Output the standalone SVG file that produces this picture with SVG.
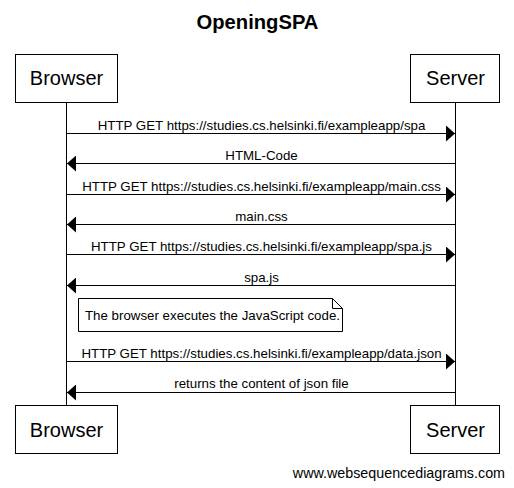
<svg xmlns="http://www.w3.org/2000/svg" width="514" height="488" viewBox="0 0 514 488">
<style>
text{font-family:"Liberation Sans",Arial,sans-serif;fill:#000}
.lbl{font-size:13.3px;text-anchor:middle}
.part{font-size:20px;text-anchor:middle}
.box{fill:#fff;stroke:#000;stroke-width:1}
.msg{stroke:#000;stroke-width:1;fill:none}
.life{stroke:#000;stroke-width:1}
</style>
<defs>
<marker id="ah" viewBox="0 0 9 16" refX="9" refY="8" markerWidth="9" markerHeight="16" markerUnits="userSpaceOnUse" orient="auto">
<path d="M0,0 L9,8 L0,16 Z" fill="#000"/>
</marker>
</defs>
<rect width="514" height="488" fill="#fff"/>
<text x="257.5" y="29" font-size="20.2" font-weight="bold" text-anchor="middle">OpeningSPA</text>
<g id="lifelines">
<line class="life" x1="66.5" y1="103" x2="66.5" y2="405"/>
<line class="life" x1="455.5" y1="103" x2="455.5" y2="405"/>
</g>
<g id="browser-top"><rect class="box" x="15.5" y="54.5" width="102" height="48"/><text class="part" x="66.5" y="85">Browser</text></g>
<g id="server-top"><rect class="box" x="410.5" y="54.5" width="89" height="48"/><text class="part" x="455.5" y="85">Server</text></g>
<g id="browser-bottom"><rect class="box" x="15.5" y="405.5" width="102" height="48"/><text class="part" x="66.5" y="437">Browser</text></g>
<g id="server-bottom"><rect class="box" x="410.5" y="405.5" width="89" height="48"/><text class="part" x="455.5" y="437">Server</text></g>
<g id="connectors">
<line class="msg" x1="67" y1="133.5" x2="455" y2="133.5" marker-end="url(#ah)"/>
<line class="msg" x1="455" y1="163.5" x2="67" y2="163.5" marker-end="url(#ah)"/>
<line class="msg" x1="67" y1="194.5" x2="455" y2="194.5" marker-end="url(#ah)"/>
<line class="msg" x1="455" y1="224.5" x2="67" y2="224.5" marker-end="url(#ah)"/>
<line class="msg" x1="67" y1="254.5" x2="455" y2="254.5" marker-end="url(#ah)"/>
<line class="msg" x1="455" y1="285.5" x2="67" y2="285.5" marker-end="url(#ah)"/>
<line class="msg" x1="67" y1="361.5" x2="455" y2="361.5" marker-end="url(#ah)"/>
<line class="msg" x1="455" y1="392.5" x2="67" y2="392.5" marker-end="url(#ah)"/>
<text class="lbl" x="261.5" y="130">HTTP GET https://studies.cs.helsinki.fi/exampleapp/spa</text>
<text class="lbl" x="261.5" y="160">HTML-Code</text>
<text class="lbl" x="261.5" y="191">HTTP GET https://studies.cs.helsinki.fi/exampleapp/main.css</text>
<text class="lbl" x="261.5" y="221">main.css</text>
<text class="lbl" x="261.5" y="251">HTTP GET https://studies.cs.helsinki.fi/exampleapp/spa.js</text>
<text class="lbl" x="261.5" y="282">spa.js</text>
<text class="lbl" x="261.5" y="358">HTTP GET https://studies.cs.helsinki.fi/exampleapp/data.json</text>
<text class="lbl" x="261.5" y="388">returns the content of json file</text>
</g>
<g id="note">
<path class="box" d="M78.5,298.5 H332.5 L342.5,308.5 V331.5 H78.5 Z"/>
<path class="msg" d="M332.5,298.5 V308.5 H342.5"/>
<text x="85" y="320" font-size="13.3">The browser executes the JavaScript code.</text>
</g>
<text x="505" y="478" font-size="14.3" text-anchor="end">www.websequencediagrams.com</text>
</svg>
